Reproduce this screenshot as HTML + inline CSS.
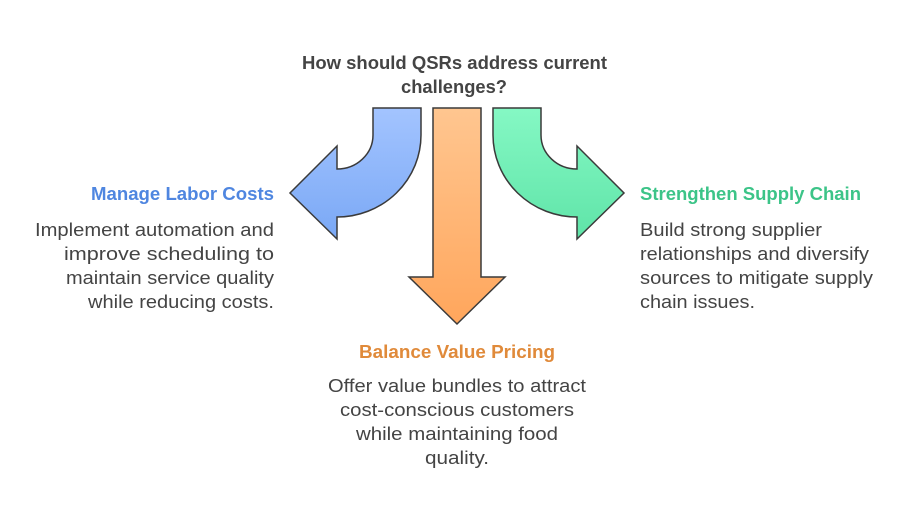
<!DOCTYPE html>
<html><head><meta charset="utf-8"><style>
html,body{margin:0;padding:0;background:#fff;}
svg{display:block;font-family:"Liberation Sans",sans-serif;}
</style></head><body>
<svg width="914" height="518" viewBox="0 0 914 518" xmlns="http://www.w3.org/2000/svg">
<defs>
<linearGradient id="gb" x1="0" y1="0" x2="0" y2="1"><stop offset="0" stop-color="#a3c4ff"/><stop offset="1" stop-color="#7aa8f5"/></linearGradient>
<linearGradient id="go" x1="0" y1="0" x2="0" y2="1"><stop offset="0" stop-color="#ffc690"/><stop offset="1" stop-color="#ffa65c"/></linearGradient>
<linearGradient id="gg" x1="0" y1="0" x2="0" y2="1"><stop offset="0" stop-color="#85f8c4"/><stop offset="1" stop-color="#5fe4a8"/></linearGradient>
</defs>
<g stroke="#3a3a3a" stroke-width="1.5" stroke-linejoin="miter">
<path d="M373,108 L421,108 L421,135 A84,82 0 0 1 337,217 L337,239 L290,193 L337,146 L337,169 A36,34 0 0 0 373,135 Z" fill="url(#gb)"/>
<path d="M433,108 L481,108 L481,277 L505,277 L457,324 L409,277 L433,277 Z" fill="url(#go)"/>
<path d="M541,108 L493,108 L493,135 A84,82 0 0 0 577,217 L577,239 L624,193 L577,146 L577,169 A36,34 0 0 1 541,135 Z" fill="url(#gg)"/>
</g>
<g font-size="18" font-weight="bold" fill="#444">
<text x="302" y="69" textLength="305" lengthAdjust="spacingAndGlyphs">How should QSRs address current</text>
<text x="401" y="93" textLength="106" lengthAdjust="spacingAndGlyphs">challenges?</text>
<text x="91" y="200" fill="#4f86e0" textLength="183" lengthAdjust="spacingAndGlyphs">Manage Labor Costs</text>
<text x="640" y="200" fill="#3cc488" textLength="221" lengthAdjust="spacingAndGlyphs">Strengthen Supply Chain</text>
<text x="359" y="358" fill="#e08a3a" textLength="196" lengthAdjust="spacingAndGlyphs">Balance Value Pricing</text>
</g>
<g font-size="18" fill="#444">
<text x="35" y="236" textLength="239" lengthAdjust="spacingAndGlyphs">Implement automation and</text>
<text x="64" y="260" textLength="210" lengthAdjust="spacingAndGlyphs">improve scheduling to</text>
<text x="66" y="284" textLength="208" lengthAdjust="spacingAndGlyphs">maintain service quality</text>
<text x="88" y="308" textLength="186" lengthAdjust="spacingAndGlyphs">while reducing costs.</text>
<text x="640" y="236" textLength="182" lengthAdjust="spacingAndGlyphs">Build strong supplier</text>
<text x="640" y="260" textLength="229" lengthAdjust="spacingAndGlyphs">relationships and diversify</text>
<text x="640" y="284" textLength="233" lengthAdjust="spacingAndGlyphs">sources to mitigate supply</text>
<text x="640" y="308" textLength="115" lengthAdjust="spacingAndGlyphs">chain issues.</text>
<text x="328" y="392" textLength="258" lengthAdjust="spacingAndGlyphs">Offer value bundles to attract</text>
<text x="340" y="416" textLength="234" lengthAdjust="spacingAndGlyphs">cost-conscious customers</text>
<text x="356" y="440" textLength="202" lengthAdjust="spacingAndGlyphs">while maintaining food</text>
<text x="425" y="464" textLength="64" lengthAdjust="spacingAndGlyphs">quality.</text>
</g>
</svg>
</body></html>
